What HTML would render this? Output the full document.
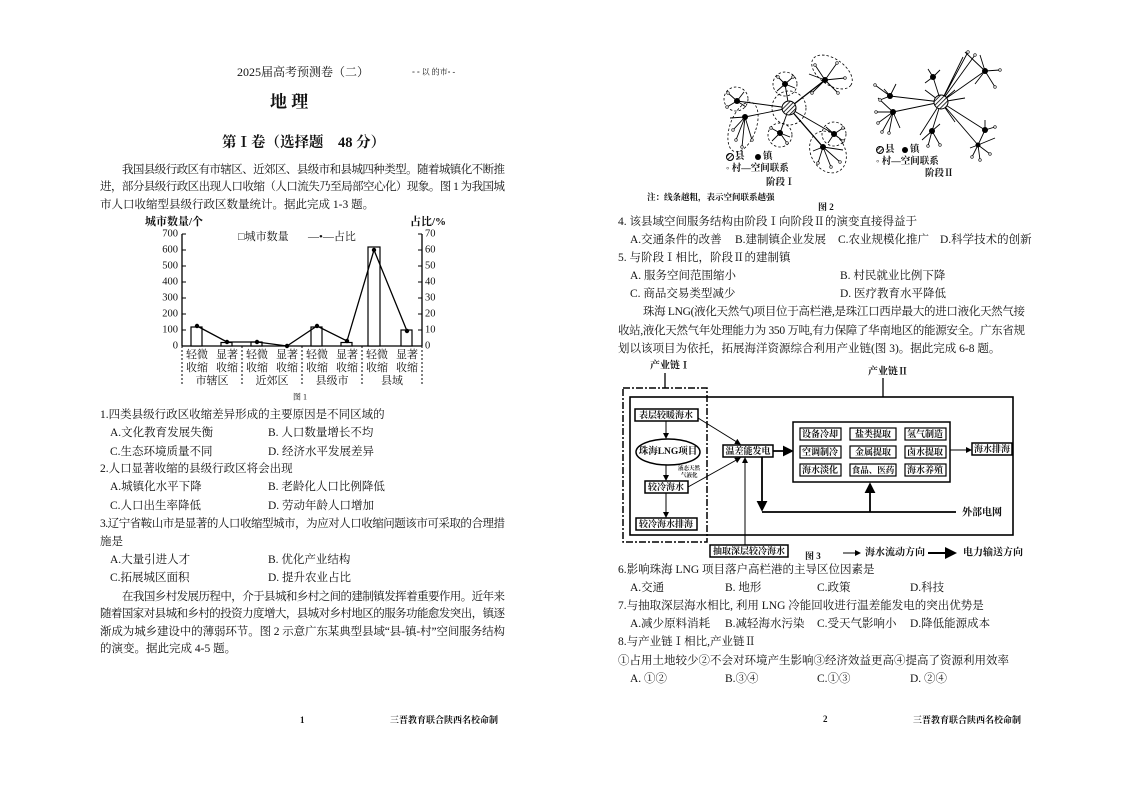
<!DOCTYPE html>
<html><head><meta charset="utf-8"><style>
html,body{margin:0;padding:0;background:#fff}
svg{display:block}
text{font-family:"Liberation Serif","Noto Serif CJK SC","Noto Sans CJK SC",serif;fill:#111;dominant-baseline:central}
.b{font-weight:bold}
</style></head><body>
<svg width="1123" height="794" viewBox="0 0 1123 794" font-size="11.5" xmlns="http://www.w3.org/2000/svg">
<defs>
<pattern id="h" width="3" height="3" patternUnits="userSpaceOnUse" patternTransform="rotate(45)"><rect width="3" height="3" fill="#fff"/><line x1="0" y1="0" x2="0" y2="3" stroke="#000" stroke-width="1.6"/></pattern>
<marker id="a" markerWidth="6" markerHeight="6" refX="5" refY="3" orient="auto"><path d="M0,0 L6,3 L0,6z" fill="#000"/></marker>
</defs>
<!-- LEFT -->
<text x="237" y="72" font-size="12">2025届高考预测卷（二）</text>
<text x="412" y="72" font-size="8" fill="#555">◦ ◦ 以 的市◦ -</text>
<text x="270" y="102" font-size="17" class="b">地 理</text>
<text x="222" y="143" font-size="14.5" class="b">第Ⅰ卷（选择题　48 分）</text>
<text x="122" y="170" textLength="383" lengthAdjust="spacing">我国县级行政区有市辖区、近郊区、县级市和县城四种类型。随着城镇化不断推</text>
<text x="100" y="187" textLength="405" lengthAdjust="spacing">进，部分县级行政区出现人口收缩（人口流失乃至局部空心化）现象。图 1 为我国城</text>
<text x="100" y="205">市人口收缩型县级行政区数量统计。据此完成 1-3 题。</text>

<!-- chart 1 -->
<g font-size="11">
<text x="145" y="222" class="b">城市数量/个</text>
<text x="410" y="222" class="b">占比/%</text>
<text x="238" y="237">□城市数量</text>
<text x="308" y="237">—•—占比</text>
</g>
<g stroke="#000" fill="none" stroke-width="1.3">
<line x1="182" y1="234" x2="182" y2="346"/>
<line x1="422" y1="234" x2="422" y2="346"/>
<line x1="182" y1="346" x2="422" y2="346"/>
</g>
<g font-size="10.5" text-anchor="end">
<text x="178" y="234">700</text><text x="178" y="250">600</text><text x="178" y="266">500</text><text x="178" y="282">400</text><text x="178" y="298">300</text><text x="178" y="314">200</text><text x="178" y="330">100</text><text x="178" y="346">0</text>
</g>
<g stroke="#000" stroke-width="1">
<line x1="182" y1="234" x2="186" y2="234"/><line x1="182" y1="250" x2="186" y2="250"/><line x1="182" y1="266" x2="186" y2="266"/><line x1="182" y1="282" x2="186" y2="282"/><line x1="182" y1="298" x2="186" y2="298"/><line x1="182" y1="314" x2="186" y2="314"/><line x1="182" y1="330" x2="186" y2="330"/>
<line x1="418" y1="234" x2="422" y2="234"/><line x1="418" y1="250" x2="422" y2="250"/><line x1="418" y1="266" x2="422" y2="266"/><line x1="418" y1="282" x2="422" y2="282"/><line x1="418" y1="298" x2="422" y2="298"/><line x1="418" y1="314" x2="422" y2="314"/><line x1="418" y1="330" x2="422" y2="330"/>
</g>
<g font-size="10.5">
<text x="425" y="234">70</text><text x="425" y="250">60</text><text x="425" y="266">50</text><text x="425" y="282">40</text><text x="425" y="298">30</text><text x="425" y="314">20</text><text x="425" y="330">10</text><text x="425" y="346">0</text>
</g>
<g fill="#fff" stroke="#000" stroke-width="1.2">
<rect x="191" y="327" width="11" height="19"/>
<rect x="221" y="342.5" width="11" height="3.5"/>
<rect x="251" y="342" width="11" height="4"/>
<rect x="311" y="327" width="11" height="19"/>
<rect x="341" y="342.5" width="11" height="3.5"/>
<rect x="368" y="247" width="12" height="99"/>
<rect x="401" y="330" width="11" height="16"/>
</g>
<polyline points="197,326 227,342 257,342 287,346 317,326 347,341 374,250 407,331" fill="none" stroke="#000" stroke-width="1.3"/>
<g fill="#000"><circle cx="197" cy="326" r="2.2"/><circle cx="227" cy="342" r="2.2"/><circle cx="257" cy="342" r="2.2"/><circle cx="287" cy="346" r="2.2"/><circle cx="317" cy="326" r="2.2"/><circle cx="347" cy="341" r="2.2"/><circle cx="374" cy="250" r="2.2"/><circle cx="407" cy="331" r="2.2"/></g>
<g stroke="#000" stroke-dasharray="2,2" stroke-width="1">
<line x1="182" y1="346" x2="182" y2="386"/><line x1="242" y1="346" x2="242" y2="386"/><line x1="302" y1="346" x2="302" y2="386"/><line x1="362" y1="346" x2="362" y2="386"/><line x1="422" y1="346" x2="422" y2="386"/>
</g>
<g font-size="11" text-anchor="middle">
<text x="197" y="355">轻微</text><text x="197" y="368">收缩</text><text x="227" y="355">显著</text><text x="227" y="368">收缩</text>
<text x="257" y="355">轻微</text><text x="257" y="368">收缩</text><text x="287" y="355">显著</text><text x="287" y="368">收缩</text>
<text x="317" y="355">轻微</text><text x="317" y="368">收缩</text><text x="347" y="355">显著</text><text x="347" y="368">收缩</text>
<text x="377" y="355">轻微</text><text x="377" y="368">收缩</text><text x="407" y="355">显著</text><text x="407" y="368">收缩</text>
<text x="212" y="381">市辖区</text><text x="272" y="381">近郊区</text><text x="332" y="381">县级市</text><text x="392" y="381">县域</text>
<text x="300" y="397" font-size="8">图 1</text>
</g>

<text x="100" y="415">1.四类县级行政区收缩差异形成的主要原因是不同区域的</text>
<text x="110" y="433">A.文化教育发展失衡</text><text x="268" y="433">B.  人口数量增长不均</text>
<text x="110" y="452">C.生态环境质量不同</text><text x="268" y="452">D.  经济水平发展差异</text>
<text x="100" y="469">2.人口显著收缩的县级行政区将会出现</text>
<text x="110" y="487">A.城镇化水平下降</text><text x="268" y="487">B.  老龄化人口比例降低</text>
<text x="110" y="506">C.人口出生率降低</text><text x="268" y="506">D.  劳动年龄人口增加</text>
<text x="100" y="524" textLength="405" lengthAdjust="spacing">3.辽宁省鞍山市是显著的人口收缩型城市，为应对人口收缩问题该市可采取的合理措</text>
<text x="100" y="542">施是</text>
<text x="110" y="560">A.大量引进人才</text><text x="268" y="560">B.  优化产业结构</text>
<text x="110" y="578">C.拓展城区面积</text><text x="268" y="578">D.  提升农业占比</text>
<text x="122" y="597" textLength="383" lengthAdjust="spacing">在我国乡村发展历程中，介于县城和乡村之间的建制镇发挥着重要作用。近年来</text>
<text x="100" y="614" textLength="405" lengthAdjust="spacing">随着国家对县城和乡村的投资力度增大，县城对乡村地区的服务功能愈发突出，镇逐</text>
<text x="100" y="632" textLength="405" lengthAdjust="spacing">渐成为城乡建设中的薄弱环节。图 2 示意广东某典型县域“县-镇-村”空间服务结构</text>
<text x="100" y="649">的演变。据此完成 4-5 题。</text>
<text x="300" y="720" font-size="9" class="b">1</text>
<text x="390" y="720" font-size="9" class="b">三晋教育联合陕西名校命制</text>

<!-- FIGURE 2 -->
<g stroke="#000" fill="none" stroke-width="0.8" stroke-dasharray="2.5,2">
<circle cx="789" cy="108" r="17"/>
<circle cx="785" cy="84" r="12"/>
<ellipse cx="832" cy="72" rx="23" ry="13" transform="rotate(35 832 72)"/>
<circle cx="736" cy="99" r="12"/>
<ellipse cx="743" cy="127" rx="13" ry="26" transform="rotate(20 743 127)"/>
<circle cx="780" cy="135" r="12"/>
<circle cx="834" cy="134" r="12"/>
<ellipse cx="828" cy="152" rx="17" ry="22" transform="rotate(-30 828 152)"/>
</g>
<g stroke="#000" stroke-width="0.9">
<line x1="789" y1="108" x2="825" y2="80" stroke-width="1.3"/>
<line x1="789" y1="108" x2="785" y2="84"/>
<line x1="789" y1="108" x2="737" y2="101"/>
<line x1="789" y1="108" x2="745" y2="117"/>
<line x1="789" y1="108" x2="780" y2="133"/>
<line x1="789" y1="108" x2="834" y2="134"/>
<line x1="789" y1="108" x2="823" y2="147" stroke-width="1.3"/>
<path d="M825 80 L815 65 M825 80 L837 63 M825 80 L845 78 M825 80 L838 93 M825 80 L812 93 M825 80 L809 74" fill="none"/>
<path d="M785 84 L778 77 M785 84 L793 77 M785 84 L795 88 M785 84 L777 91" fill="none"/>
<path d="M737 101 L728 93 M737 101 L744 92 M737 101 L727 107 M737 101 L746 107" fill="none"/>
<path d="M745 117 L733 130 M745 117 L736 140 M745 117 L742 147 M745 117 L752 140 M745 117 L730 118" fill="none"/>
<path d="M780 133 L771 128 M780 133 L772 141 M780 133 L787 143 M780 133 L790 137" fill="none"/>
<path d="M834 134 L826 127 M834 134 L843 128 M834 134 L843 141 M834 134 L828 143" fill="none"/>
<path d="M823 147 L813 151 M823 147 L818 163 M823 147 L831 167 M823 147 L840 162 M823 147 L843 150" fill="none"/>
</g>
<g fill="#000"><circle cx="825" cy="80" r="3"/><circle cx="785" cy="84" r="3"/><circle cx="737" cy="101" r="3"/><circle cx="745" cy="117" r="3"/><circle cx="780" cy="133" r="3"/><circle cx="834" cy="134" r="3"/><circle cx="823" cy="147" r="3"/></g>
<circle cx="789" cy="108" r="7" fill="url(#h)" stroke="#000"/>
<g fill="#fff" stroke="#000" stroke-width="0.6">
<circle cx="815" cy="65" r="1.3"/><circle cx="837" cy="63" r="1.3"/><circle cx="845" cy="78" r="1.3"/><circle cx="838" cy="93" r="1.3"/><circle cx="812" cy="93" r="1.3"/>
<circle cx="778" cy="77" r="1.3"/><circle cx="793" cy="77" r="1.3"/><circle cx="728" cy="93" r="1.3"/><circle cx="727" cy="107" r="1.3"/>
<circle cx="733" cy="130" r="1.3"/><circle cx="736" cy="140" r="1.3"/><circle cx="742" cy="147" r="1.3"/><circle cx="752" cy="140" r="1.3"/>
<circle cx="771" cy="128" r="1.3"/><circle cx="787" cy="143" r="1.3"/><circle cx="843" cy="128" r="1.3"/><circle cx="843" cy="141" r="1.3"/>
<circle cx="818" cy="163" r="1.3"/><circle cx="831" cy="167" r="1.3"/><circle cx="840" cy="162" r="1.3"/>
</g>
<circle cx="730" cy="157" r="3.5" fill="url(#h)" stroke="#000"/>
<text x="735" y="157" font-size="9.5" class="b">县</text>
<circle cx="758" cy="157" r="3" fill="#000"/>
<text x="763" y="157" font-size="9.5" class="b">镇</text>
<text x="726" y="169" font-size="9.5" class="b">◦ 村—空间联系</text>
<text x="766" y="183" font-size="9.5" class="b">阶段Ⅰ</text>

<g stroke="#000" stroke-width="0.9" fill="none">
<path d="M941 102 L985 71 M941 102 L968 52 M941 102 L963 57 M941 102 L975 55 M941 102 L933 77 M941 102 L890 96 M941 102 L893 112 M941 102 L932 131 M941 102 L985 130 M941 102 L978 145 M941 102 L955 122 M941 102 L920 135 M941 102 L925 90 M941 102 L955 90 M941 102 L965 98"/>
<path d="M985 71 L965 52 M985 71 L980 55 M985 71 L1000 70 M985 71 L995 87 M985 71 L975 84"/>
<path d="M933 77 L928 69 M933 77 L940 70 M933 77 L925 83"/>
<path d="M890 96 L880 100 M890 96 L875 85 M890 96 L884 89 M890 96 L896 84"/>
<path d="M893 112 L878 123 M893 112 L882 132 M893 112 L889 133 M893 112 L900 128 M893 112 L876 112 M893 112 L878 98"/>
<path d="M932 131 L922 140 M932 131 L928 146 M932 131 L940 145 M932 131 L940 124"/>
<path d="M985 130 L985 120 M985 130 L995 127 M985 130 L978 145"/>
<path d="M978 145 L970 148 M978 145 L972 157 M978 145 L980 160 M978 145 L990 154 M978 145 L995 138"/>
</g>
<g fill="#000"><circle cx="985" cy="71" r="3"/><circle cx="933" cy="77" r="3"/><circle cx="890" cy="96" r="3"/><circle cx="893" cy="112" r="3"/><circle cx="932" cy="131" r="3"/><circle cx="985" cy="130" r="3"/><circle cx="978" cy="145" r="2.5"/></g>
<circle cx="941" cy="102" r="7" fill="url(#h)" stroke="#000"/>
<g fill="#fff" stroke="#000" stroke-width="0.6">
<circle cx="968" cy="52" r="1.3"/><circle cx="975" cy="55" r="1.3"/><circle cx="1000" cy="70" r="1.3"/><circle cx="995" cy="87" r="1.3"/><circle cx="875" cy="85" r="1.3"/><circle cx="880" cy="100" r="1.3"/><circle cx="878" cy="123" r="1.3"/><circle cx="882" cy="132" r="1.3"/><circle cx="889" cy="133" r="1.3"/><circle cx="876" cy="112" r="1.3"/><circle cx="928" cy="146" r="1.3"/><circle cx="940" cy="145" r="1.3"/><circle cx="972" cy="157" r="1.3"/><circle cx="980" cy="160" r="1.3"/><circle cx="990" cy="154" r="1.3"/><circle cx="995" cy="127" r="1.3"/>
</g>
<circle cx="880" cy="150" r="3.5" fill="url(#h)" stroke="#000"/>
<text x="885" y="150" font-size="9.5" class="b">县</text>
<circle cx="905" cy="150" r="3" fill="#000"/>
<text x="910" y="150" font-size="9.5" class="b">镇</text>
<text x="876" y="162" font-size="9.5" class="b">◦ 村—空间联系</text>
<text x="925" y="174" font-size="9.5" class="b">阶段Ⅱ</text>

<!-- RIGHT -->
<text x="647" y="197" font-size="8.5" class="b">注：线条越粗，表示空间联系越强</text>
<text x="818" y="207" font-size="9" class="b">图 2</text>
<text x="618" y="222">4. 该县域空间服务结构由阶段Ⅰ向阶段Ⅱ的演变直接得益于</text>
<text x="630" y="240">A.交通条件的改善</text><text x="735" y="240">B.建制镇企业发展</text><text x="838" y="240">C.农业规模化推广</text><text x="940" y="240">D.科学技术的创新</text>
<text x="618" y="258">5. 与阶段Ⅰ相比，阶段Ⅱ的建制镇</text>
<text x="630" y="276">A.  服务空间范围缩小</text><text x="840" y="276">B.  村民就业比例下降</text>
<text x="630" y="294">C.  商品交易类型减少</text><text x="840" y="294">D.  医疗教育水平降低</text>
<text x="643" y="312" textLength="382" lengthAdjust="spacing">珠海 LNG(液化天然气)项目位于高栏港,是珠江口西岸最大的进口液化天然气接</text>
<text x="618" y="331" textLength="407" lengthAdjust="spacing">收站,液化天然气年处理能力为 350 万吨,有力保障了华南地区的能源安全。广东省规</text>
<text x="618" y="349">划以该项目为依托，拓展海洋资源综合利用产业链(图 3)。据此完成 6-8 题。</text>

<!-- FIGURE 3 -->
<text x="650" y="366" font-size="10" class="b">产业链Ⅰ</text>
<text x="868" y="372" font-size="10" class="b">产业链Ⅱ</text>
<line x1="665" y1="373" x2="665" y2="388" stroke="#000" stroke-width="1.3"/>
<line x1="883" y1="378" x2="883" y2="397" stroke="#000" stroke-width="1.3"/>
<rect x="623" y="388" width="84" height="154" fill="none" stroke="#000" stroke-width="1.5" stroke-dasharray="7,2,2,2"/>
<rect x="630" y="397" width="383" height="138" fill="none" stroke="#000" stroke-width="1.6"/>
<g fill="#fff" stroke="#000" stroke-width="1.5">
<rect x="635" y="409" width="63" height="12"/>
<ellipse cx="668" cy="452" rx="32" ry="13"/>
<rect x="645" y="481" width="43" height="12"/>
<rect x="636" y="518" width="61" height="12"/>
<rect x="723" y="445" width="50" height="12"/>
<rect x="793" y="422" width="157" height="60"/>
<rect x="972" y="443" width="40" height="12"/>
<rect x="710" y="545" width="78" height="12"/>
</g>
<g fill="#fff" stroke="#000" stroke-width="1.2">
<rect x="800" y="428" width="41" height="12"/><rect x="850" y="428" width="46" height="12"/><rect x="905" y="428" width="41" height="12"/>
<rect x="800" y="446" width="41" height="12"/><rect x="850" y="446" width="46" height="12"/><rect x="905" y="446" width="41" height="12"/>
<rect x="800" y="464" width="41" height="12"/><rect x="850" y="464" width="46" height="12"/><rect x="905" y="464" width="41" height="12"/>
</g>
<g font-size="9" class="b" text-anchor="middle">
<text x="666" y="415">表层较暖海水</text>
<text x="668" y="452" font-size="9.5">珠海LNG项目</text>
<text x="666" y="487">较冷海水</text>
<text x="666" y="524">较冷海水排海</text>
<text x="748" y="451">温差能发电</text>
<text x="992" y="449">海水排海</text>
<text x="749" y="551">抽取深层较冷海水</text>
<text x="820" y="434">设备冷却</text><text x="873" y="434">盐类提取</text><text x="925" y="434">氢气制造</text>
<text x="820" y="452">空调制冷</text><text x="873" y="452">金属提取</text><text x="925" y="452">卤水提取</text>
<text x="820" y="470">海水淡化</text><text x="873" y="470" font-size="8.5">食品、医药</text><text x="925" y="470">海水养殖</text>
</g>
<text x="678" y="469" font-size="5.5" class="b">液态天然</text>
<text x="681" y="476" font-size="5.5" class="b">气液化</text>
<g stroke="#000" stroke-width="1" fill="none" marker-end="url(#a)">
<line x1="666" y1="421" x2="666" y2="438"/>
<line x1="666" y1="465" x2="666" y2="480"/>
<line x1="666" y1="493" x2="666" y2="517"/>
<line x1="698" y1="418" x2="740" y2="444"/>
<line x1="688" y1="487" x2="740" y2="458"/>
<line x1="745" y1="545" x2="745" y2="458"/>
<line x1="950" y1="450" x2="971" y2="450"/>
</g>
<g stroke="#000" stroke-width="1.8" fill="none" marker-end="url(#a)">
<line x1="773" y1="451" x2="792" y2="451"/>
<line x1="762" y1="457" x2="762" y2="510"/>
<line x1="870" y1="512" x2="870" y2="484"/>
</g>
<line x1="762" y1="512" x2="956" y2="512" stroke="#000" stroke-width="1.8"/>
<text x="962" y="513" font-size="10" class="b">外部电网</text>
<text x="805" y="556" font-size="9" class="b">图 3</text>
<line x1="843" y1="553" x2="860" y2="553" stroke="#000" stroke-width="1" marker-end="url(#a)"/>
<text x="865" y="553" font-size="10" class="b">海水流动方向</text>
<line x1="928" y1="553" x2="955" y2="553" stroke="#000" stroke-width="2" marker-end="url(#a)"/>
<text x="963" y="553" font-size="10" class="b">电力输送方向</text>

<text x="618" y="570">6.影响珠海 LNG 项目落户高栏港的主导区位因素是</text>
<text x="630" y="588">A.交通</text><text x="725" y="588">B.  地形</text><text x="817" y="588">C.政策</text><text x="910" y="588">D.科技</text>
<text x="618" y="606">7.与抽取深层海水相比, 利用 LNG 冷能回收进行温差能发电的突出优势是</text>
<text x="630" y="624">A.减少原料消耗</text><text x="725" y="624">B.减轻海水污染</text><text x="817" y="624">C.受天气影响小</text><text x="910" y="624">D.降低能源成本</text>
<text x="618" y="642">8.与产业链Ⅰ相比,产业链Ⅱ</text>
<text x="618" y="661">①占用土地较少②不会对环境产生影响③经济效益更高④提高了资源利用效率</text>
<text x="630" y="679">A.  ①②</text><text x="725" y="679">B.③④</text><text x="817" y="679">C.①③</text><text x="910" y="679">D.  ②④</text>
<text x="823" y="719" font-size="9" class="b">2</text>
<text x="913" y="720" font-size="9" class="b">三晋教育联合陕西名校命制</text>
</svg>
</body></html>
